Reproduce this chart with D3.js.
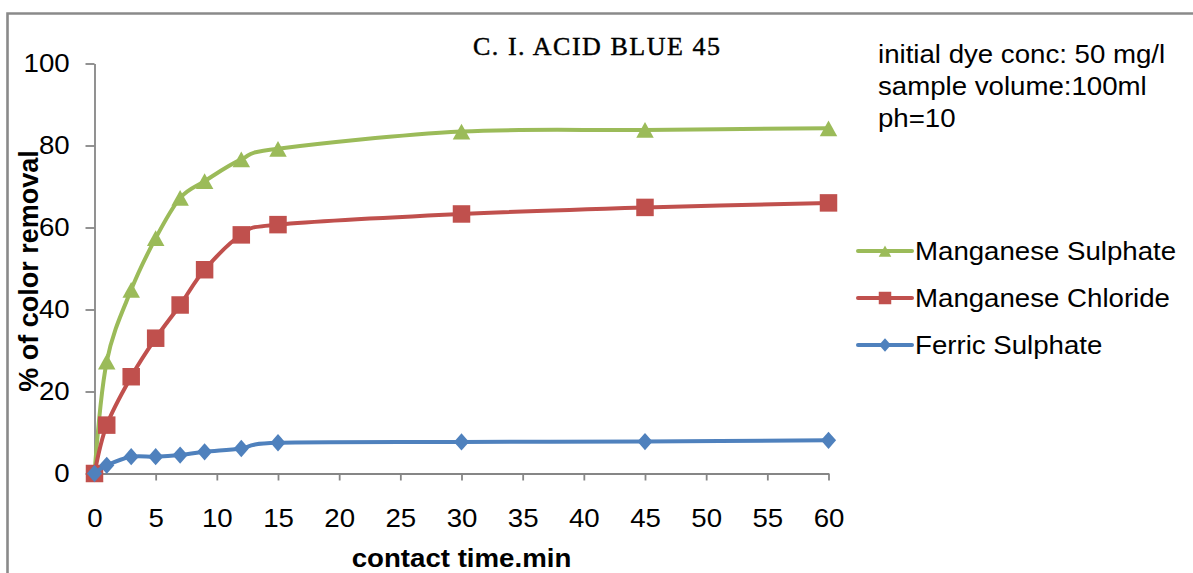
<!DOCTYPE html>
<html>
<head>
<meta charset="utf-8">
<script src="https://cdn.jsdelivr.net/npm/d3@7"></script>
<style>
  html, body { margin: 0; padding: 0; background: #fff; }
  svg { display: block; }
</style>
</head>
<body>
<svg id="chart" width="1193" height="573"></svg>
<script>
// ---- data ----
const times = [0, 1, 3, 5, 7, 9, 12, 15, 30, 45, 60];
const manganeseSulphate = [0, 27.3, 44.8, 57.4, 67.2, 71.3, 76.6, 79.2, 83.4, 83.8, 84.2];
const manganeseChloride = [0, 11.8, 23.6, 33.0, 41.1, 49.7, 58.2, 60.7, 63.3, 64.9, 66.0];
const ferricSulphate = [0, 2.0, 4.1, 4.1, 4.5, 5.3, 6.1, 7.5, 7.7, 7.8, 8.1];
const seriesNames = ["Manganese Sulphate", "Manganese Chloride", "Ferric Sulphate"];
const xTicks = [0, 5, 10, 15, 20, 25, 30, 35, 40, 45, 50, 55, 60];
const yTicks = [0, 20, 40, 60, 80, 100];
const titleText = "C. I. ACID BLUE 45";
const noteLines = ["initial dye conc: 50 mg/l", "sample volume:100ml", "ph=10"];
const xTitle = "contact time.min";
const yTitle = "% of color removal";

// ---- setup ----
const svg = d3.select("#chart");
const SX = 1.08; // horizontal stretch of the original's text
const FONT = "'Liberation Sans', Arial, sans-serif";

const x = d3.scaleLinear().domain([0, 60]).range([94.5, 828.5]);
const y = d3.scaleLinear().domain([0, 100]).range([473.5, 63.5]);

// frame
svg.append("path")
  .attr("d", "M7.5,573 L7.5,13.5 L1193,13.5")
  .attr("fill", "none").attr("stroke", "#8a8a8a").attr("stroke-width", 2.6);

// axes
const axisColor = "#868686";
const yAxis = svg.append("g")
  .attr("transform", `translate(${x(0)},0)`)
  .call(d3.axisLeft(y).tickValues(yTicks).tickSize(9).tickPadding(14).tickSizeOuter(0));
const xAxis = svg.append("g")
  .attr("transform", `translate(0,${y(0)})`)
  .call(d3.axisBottom(x).tickValues(xTicks).tickSize(7).tickPadding(28).tickSizeOuter(0));

[yAxis, xAxis].forEach(g => {
  g.select(".domain").attr("stroke", axisColor).attr("stroke-width", 1.8);
  g.selectAll(".tick line").attr("stroke", axisColor).attr("stroke-width", 1.8);
  g.selectAll(".tick text")
    .attr("fill", "#000")
    .style("font-family", FONT)
    .style("font-size", "25.6px")
    .attr("transform", `scale(${SX},1)`);
});
xAxis.selectAll(".tick").filter(d => d === 0).select("line").remove();

// axis titles
svg.append("g")
  .attr("transform", `translate(${(x(0) + x(60)) / 2},567) scale(${SX},1)`)
  .append("text")
  .attr("text-anchor", "middle")
  .style("font-family", FONT).style("font-size", "25.6px").style("font-weight", "bold")
  .text(xTitle);

svg.append("text")
  .attr("transform", "translate(37.5,271) rotate(-90)")
  .attr("text-anchor", "middle")
  .style("font-family", FONT).style("font-size", "27px").style("font-weight", "bold")
  .text(yTitle);

// title
svg.append("text")
  .attr("x", 473).attr("y", 55)
  .attr("textLength", 247).attr("lengthAdjust", "spacing")
  .style("font-family", "'Liberation Serif', 'DejaVu Serif', serif")
  .style("font-size", "26px")
  .attr("fill", "#000")
  .attr("stroke", "#000").attr("stroke-width", 0.45)
  .text(titleText);

// note lines
noteLines.forEach((t, i) => {
  svg.append("g")
    .attr("transform", `translate(878,${63.3 + i * 32}) scale(${SX},1)`)
    .append("text")
    .style("font-family", FONT).style("font-size", "25.6px")
    .text(t);
});

// ---- series ----
const colors = ["#9BBB59", "#C0504D", "#4F81BD"];
const values = [manganeseSulphate, manganeseChloride, ferricSulphate];
const shapes = ["triangle", "square", "diamond"];

function markerPath(shape, s) {
  // s = nominal marker width
  const h = s / 2;
  if (shape === "triangle") {
    const th = s * 0.9 / 2;
    return `M0,${-th}L${h},${th}L${-h},${th}Z`;
  }
  if (shape === "square") return `M${-h},${-h}H${h}V${h}H${-h}Z`;
  const dh = s * 1.08 / 2;
  return `M0,${-dh}L${h * 0.95},0L0,${dh}L${-h * 0.95},0Z`;
}

const line = d3.line()
  .x(d => x(d.t)).y(d => y(d.v))
  .curve(d3.curveCatmullRom.alpha(0));

values.forEach((vals, si) => {
  const pts = times.map((t, i) => ({ t, v: vals[i] }));
  const g = svg.append("g");
  g.append("path")
    .datum(pts)
    .attr("d", line)
    .attr("fill", "none")
    .attr("stroke", colors[si])
    .attr("stroke-width", 4)
    .attr("stroke-linejoin", "round");
  g.selectAll("path.m")
    .data(pts)
    .join("path")
    .attr("class", "m")
    .attr("transform", d => `translate(${x(d.t)},${y(d.v)})`)
    .attr("d", markerPath(shapes[si], shapes[si] === "diamond" ? 16 : 17.5))
    .attr("fill", colors[si]);
});

// ---- legend ----
seriesNames.forEach((name, i) => {
  const ly = 251 + i * 47;
  const lg = svg.append("g");
  lg.append("line")
    .attr("x1", 858).attr("x2", 912).attr("y1", ly).attr("y2", ly)
    .attr("stroke", colors[i]).attr("stroke-width", 4).attr("stroke-linecap", "round");
  lg.append("path")
    .attr("transform", `translate(885,${ly})`)
    .attr("d", markerPath(shapes[i], 12.5))
    .attr("fill", colors[i]);
  lg.append("g")
    .attr("transform", `translate(915,${ly + 9}) scale(${SX},1)`)
    .append("text")
    .style("font-family", FONT).style("font-size", "25.6px")
    .text(name);
});
</script>
</body>
</html>
